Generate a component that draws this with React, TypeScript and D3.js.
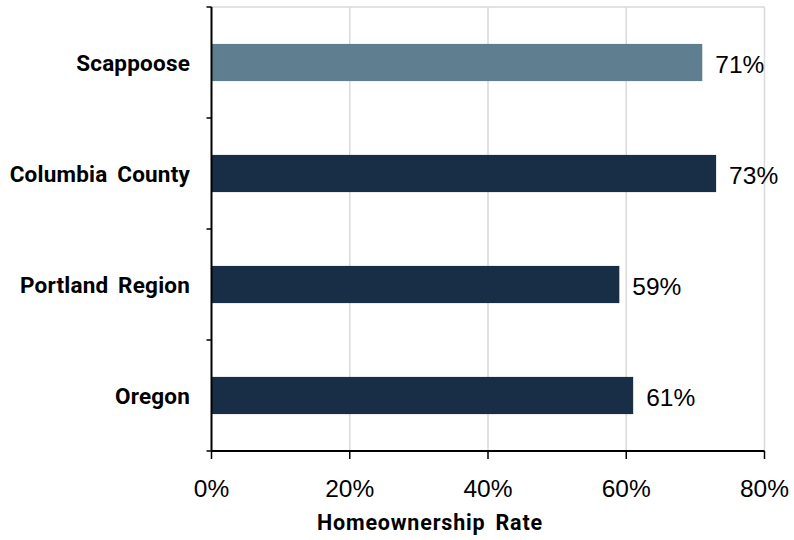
import React from "react";
import * as d3 from "d3";

const categories = ["Scappoose", "Columbia County", "Portland Region", "Oregon"];
const rates = [71, 73, 59, 61];
const barColors = ["#5F7F91", "#182E47", "#182E47", "#182E47"];
const xTicks = [0, 20, 40, 60, 80];
const axisTitle = "Homeownership Rate";

const W = 794;
const H = 540;
const left = 211.5;
const right = 764.5;
const top = 7;
const bottom = 451;

export default function App() {
  const x = d3.scaleLinear().domain([0, 80]).range([left, right]);
  const y = d3.scaleBand<string>().domain(categories).range([top, bottom]).padding(0);
  const step = y.step();
  const barH = step * 0.335;
  const catFont = "Roboto, 'Liberation Sans', sans-serif";
  const numFont = "'Liberation Sans', Arial, sans-serif";

  return (
    <svg
      width={W}
      height={H}
      style={{ position: "absolute", left: 0, top: 0, background: "#fff" }}
    >
      {/* vertical gridlines */}
      {xTicks.slice(1).map((t) => (
        <line key={`g${t}`} x1={x(t)} x2={x(t)} y1={top} y2={bottom} stroke="#D9D9D9" strokeWidth={1.5} />
      ))}
      {/* top border */}
      <line x1={left} x2={right} y1={top} y2={top} stroke="#D9D9D9" strokeWidth={1.5} />

      {/* bars */}
      {categories.map((c, i) => {
        const cy = (y(c) as number) + step / 2;
        return (
          <g key={c}>
            <rect x={x(0)} y={cy - barH / 2} width={x(rates[i]) - x(0)} height={barH} fill={barColors[i]} />
            <text
              x={x(rates[i]) + 13}
              y={cy + 10}
              fontFamily={numFont}
              fontSize={24.5}
              fill="#000"
            >
              {rates[i]}%
            </text>
            <text
              x={190}
              y={cy + 8}
              textAnchor="end"
              fontFamily={catFont}
              fontWeight={700}
              fontSize={22.5}
              wordSpacing={4}
              letterSpacing={0.2}
              fill="#000"
            >
              {c}
            </text>
          </g>
        );
      })}

      {/* y axis */}
      <line x1={left} x2={left} y1={top} y2={bottom} stroke="#000" strokeWidth={2} />
      {categories.map((c) => (
        <line key={`yt${c}`} x1={left - 5} x2={left} y1={y(c) as number} y2={y(c) as number} stroke="#000" strokeWidth={1.5} />
      ))}
      <line x1={left - 5} x2={left} y1={bottom} y2={bottom} stroke="#000" strokeWidth={1.5} />

      {/* x axis */}
      <line x1={left} x2={right} y1={bottom} y2={bottom} stroke="#000" strokeWidth={2} />
      {xTicks.map((t) => (
        <g key={`xt${t}`}>
          <line x1={x(t)} x2={x(t)} y1={bottom} y2={bottom + 8} stroke="#000" strokeWidth={1.5} />
          <text x={x(t)} y={497} textAnchor="middle" fontFamily={numFont} fontSize={24.5} fill="#000">
            {t}%
          </text>
        </g>
      ))}
      <text
        x={430}
        y={530}
        textAnchor="middle"
        fontFamily={catFont}
        fontWeight={700}
        fontSize={21.5}
        wordSpacing={4}
        letterSpacing={0.8}
        fill="#000"
      >
        {axisTitle}
      </text>
    </svg>
  );
}
